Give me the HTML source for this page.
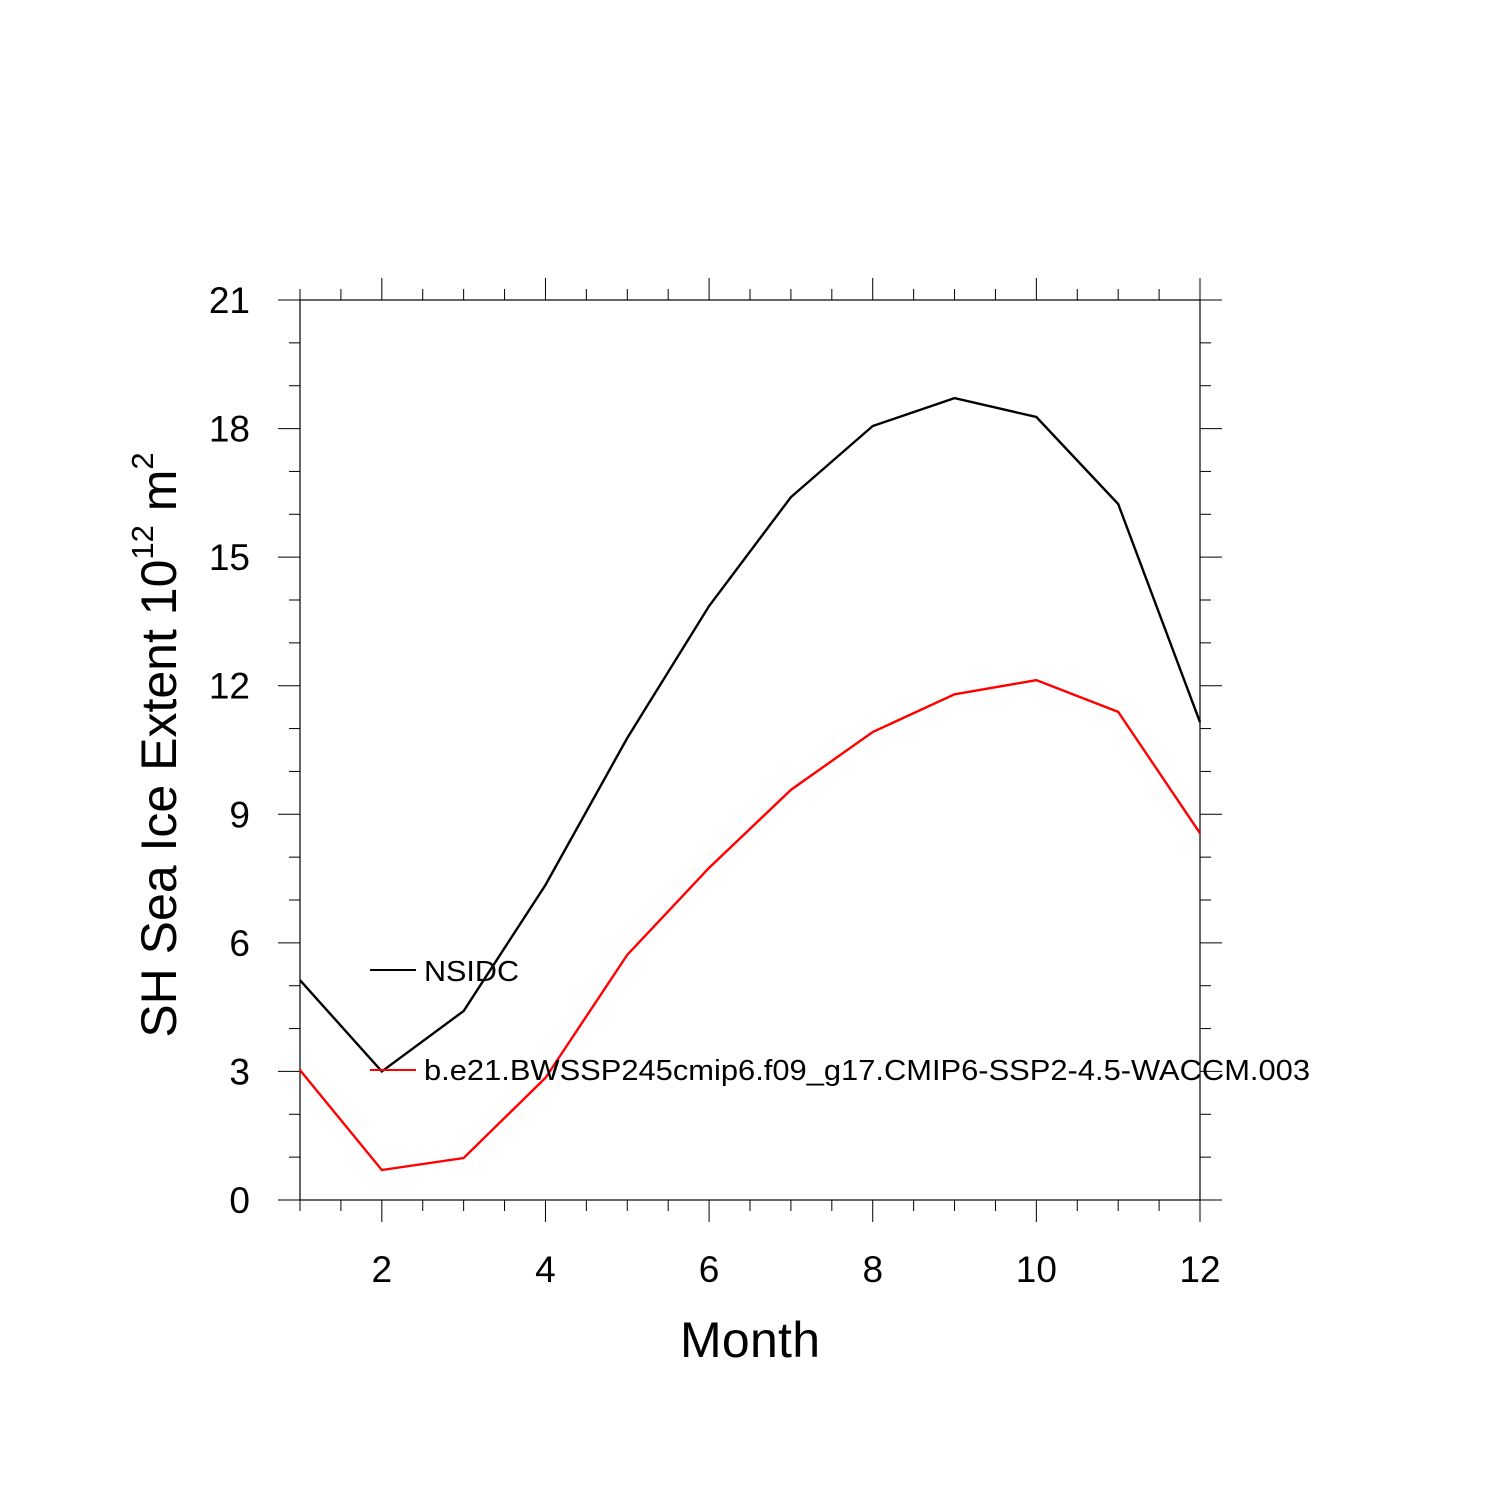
<!DOCTYPE html>
<html><head><meta charset="utf-8"><style>
body{margin:0;background:#fff}
svg{display:block;font-family:"Liberation Sans",sans-serif}
</style></head><body>
<svg id="chart" width="1500" height="1500" viewBox="0 0 1500 1500">
<rect width="1500" height="1500" fill="#fff"/>
<g id="ticks"></g>
<g id="labels"></g>
<rect x="300" y="300" width="900" height="900" fill="none" stroke="#000" stroke-width="1.2"/>
<g id="series"></g>
<text x="750" y="1357" font-size="50" text-anchor="middle" textLength="140">Month</text>
<text transform="translate(176,745) rotate(-90)" font-size="50" text-anchor="middle">SH Sea Ice Extent 10<tspan font-size="31" dy="-23">12</tspan><tspan dy="23"> m</tspan><tspan font-size="31" dy="-23">2</tspan></text>
<g>
<line x1="370" y1="970" x2="416" y2="970" stroke="#000" stroke-width="2"/>
<text x="424" y="981" font-size="29" textLength="95" lengthAdjust="spacingAndGlyphs">NSIDC</text>
<line x1="370" y1="1070" x2="416" y2="1070" stroke="#f00" stroke-width="2"/>
<text x="424" y="1080" font-size="29" textLength="886" lengthAdjust="spacingAndGlyphs">b.e21.BWSSP245cmip6.f09_g17.CMIP6-SSP2-4.5-WACCM.003</text>
</g>
</svg>
<script>
const months=[1,2,3,4,5,6,7,8,9,10,11,12];
const nsidc=[5.13,3.0,4.41,7.35,10.78,13.86,16.4,18.06,18.71,18.27,16.24,11.15];
const model=[3.03,0.7,0.98,2.85,5.72,7.75,9.57,10.92,11.8,12.13,11.39,8.56];
const xTickLabels=[2,4,6,8,10,12];
const yTickLabels=[0,3,6,9,12,15,18,21];
const NS="http://www.w3.org/2000/svg";
const X=m=>300+(m-1)*900/11;
const Y=v=>1200-v*900/21;
function mk(tag,attrs,parent){const e=document.createElementNS(NS,tag);for(const k in attrs)e.setAttribute(k,attrs[k]);parent.appendChild(e);return e;}
const tg=document.getElementById('ticks'),lg=document.getElementById('labels'),sg=document.getElementById('series');
for(let m=1;m<=12.001;m+=0.5){
  const major=xTickLabels.includes(m);const L=major?22:11;const x=X(m);
  let t=mk('line',{x1:x,y1:1200,x2:x,y2:1200+L,stroke:'#000','stroke-width':1},tg);
  
  
  t=mk('line',{x1:x,y1:300,x2:x,y2:300-L,stroke:'#000','stroke-width':1},tg);
  
  
}
xTickLabels.forEach(m=>{const t=mk('text',{x:X(m),y:1282,'font-size':37,'text-anchor':'middle'},lg);t.textContent=m;
  
  });
for(let v=0;v<=21;v++){
  const major=v%3===0;const L=major?22:11;const y=Y(v);
  let t=mk('line',{x1:300,y1:y,x2:300-L,y2:y,stroke:'#000','stroke-width':1},tg);
  
  
  t=mk('line',{x1:1200,y1:y,x2:1200+L,y2:y,stroke:'#000','stroke-width':1},tg);
  
  
}
yTickLabels.forEach(v=>{const t=mk('text',{x:250,y:Y(v)+13,'font-size':37,'text-anchor':'end'},lg);t.textContent=v;
  
  });
function line(vals,color,name){
  const p=mk('polyline',{points:months.map((m,i)=>X(m)+','+Y(vals[i])).join(' '),fill:'none',stroke:color,'stroke-width':2.4},sg);
  
  
}
line(nsidc,'#000','nsidc-line');
line(model,'#f00','model-line');
</script>
</body></html>
